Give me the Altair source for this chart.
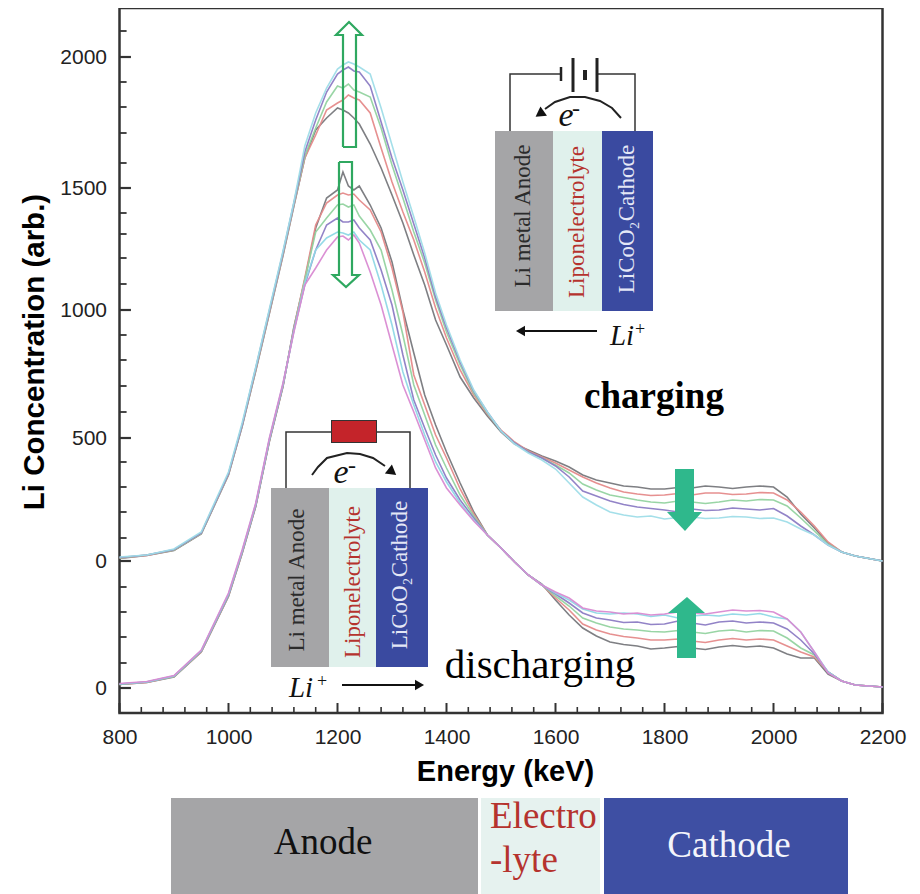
import altair as alt
import pandas as pd

energy = [800,850,900,950,1000,1025,1050,1075,1100,1120,1140,1160,1180,1200,1210,1220,1230,1240,1260,1280,1300,1320,1340,1360,1380,1400,1425,1450,1475,1500,1525,1550,1575,1600,1625,1650,1675,1700,1725,1750,1775,1800,1825,1850,1875,1900,1925,1950,1975,2000,2025,2050,2075,2100,2125,2150,2200]

charge_cyan = [12,20,44,112,352,548,772,1004,1236,1432,1656,1788,1888,1964,1980,1992,1984,1972,1944,1808,1660,1512,1372,1228,1068,940,800,680,592,516,464,428,400,364,308,252,220,192,180,172,176,164,170,172,166,168,174,172,166,168,152,124,100,60,32,16,-4]
charge_purple = [10,20,42,108,346,540,768,998,1230,1428,1632,1760,1872,1944,1960,1972,1956,1952,1896,1752,1608,1480,1344,1208,1052,928,792,676,592,516,468,432,408,376,332,276,256,236,222,212,206,200,192,204,198,200,208,204,200,206,176,136,100,60,32,16,-4]
charge_green = [8,20,40,106,344,538,764,994,1226,1424,1616,1728,1832,1896,1888,1904,1880,1872,1852,1728,1580,1448,1312,1188,1040,912,780,668,588,516,468,432,408,380,348,304,280,260,250,240,232,228,236,232,226,232,240,236,242,240,216,168,116,64,32,16,-4]
charge_red = [8,18,40,106,342,536,760,990,1222,1420,1608,1700,1800,1828,1840,1860,1848,1840,1788,1648,1512,1392,1280,1152,1008,888,760,660,584,520,472,436,412,388,360,332,308,288,272,264,258,260,266,260,268,268,262,264,270,268,240,192,136,72,32,16,-4]
charge_grey = [6,18,38,104,340,534,756,986,1218,1416,1608,1720,1768,1808,1800,1788,1768,1744,1664,1568,1460,1348,1220,1100,960,860,732,648,576,512,464,440,416,396,372,340,320,308,296,292,284,284,290,288,296,292,286,292,296,292,252,184,128,68,32,16,-4]

dis_pink = [18,26,50,152,380,552,740,1000,1220,1424,1612,1680,1752,1804,1808,1792,1812,1780,1664,1532,1372,1212,1104,992,880,800,732,668,612,560,504,452,412,384,360,320,308,304,296,300,292,296,304,300,296,304,312,308,310,304,276,224,144,60,28,12,4]
dis_cyan = [16,24,48,150,376,548,736,996,1216,1428,1620,1752,1800,1824,1820,1812,1824,1792,1752,1612,1452,1264,1132,1012,904,824,740,672,612,560,504,452,412,380,352,316,300,296,300,296,286,292,280,288,292,288,296,292,298,284,276,224,144,64,28,12,4]
dis_purple = [16,24,48,148,372,544,732,992,1212,1432,1612,1752,1852,1880,1864,1864,1872,1840,1792,1672,1532,1332,1152,1040,932,840,752,680,612,560,504,452,412,376,340,300,280,272,262,264,254,256,268,260,252,264,268,260,264,260,236,192,136,64,28,12,4]
dis_green = [14,24,46,146,370,542,730,990,1210,1436,1632,1824,1880,1932,1936,1924,1932,1888,1832,1752,1592,1412,1212,1092,972,880,772,688,612,560,504,452,412,368,328,280,260,244,236,232,226,224,230,224,218,228,232,224,230,228,200,160,132,64,28,12,4]
dis_red = [14,22,46,144,368,540,728,988,1208,1440,1640,1852,1940,1972,1980,1972,1976,1952,1912,1824,1680,1504,1252,1132,1012,920,796,696,612,560,504,452,412,360,312,256,232,216,206,200,192,192,196,188,182,192,198,192,196,192,168,144,124,64,28,12,4]
dis_grey = [14,22,44,144,366,538,726,986,1206,1444,1632,1840,1960,1992,2064,2008,1992,2008,1932,1840,1704,1512,1340,1172,1052,944,820,704,612,560,504,452,416,352,292,240,208,184,174,168,156,160,166,160,154,164,170,164,168,160,136,120,120,56,28,12,4]

discharge_offset = -512

series_names = ["c_grey","c_red","c_green","c_purple","c_cyan","d_pink","d_cyan","d_purple","d_green","d_red","d_grey"]
series_colors = ["#77787c","#e58a8a","#93d3a0","#8c7cc4","#9fdde8","#d98ad2","#8fd8e6","#8c7cc4","#93d3a0","#e58a8a","#77787c"]

y_major_ticks = [2012,1488,1000,488,-4,-512]
y_major_labels = ["2000","1500","1000","500","0","0"]
y_minor_ticks = [2116,1912,1812,1708,1588,1388,1304,1208,1104,900,800,696,592,392,292,192,88,-108,-208,-308,-412]
x_major_ticks = [800,1000,1200,1400,1600,1800,2000,2200]
x_minor_ticks = [840,880,920,960,1040,1080,1120,1160,1240,1280,1320,1360,1440,1480,1520,1560,1640,1680,1720,1760,1840,1880,1920,1960,2040,2080,2120,2160]

W, H = 763, 705
xs = alt.Scale(domain=[800, 2200], nice=False, zero=False)
ys = alt.Scale(domain=[-612, 2208], nice=False, zero=False)
SANS, SERIF = "Liberation Sans", "Liberation Serif"

label_expr = "{" + ",".join(f"'{v}':'{t}'" for v, t in zip(y_major_ticks, y_major_labels)) + "}[datum.value]"
xa = alt.Axis(values=x_major_ticks, title="Energy (keV)", grid=False, ticks=False, domain=False,
              labelFont=SANS, labelFontSize=21, labelColor="#222", labelPadding=13, labelFlush=False,
              titleFont=SANS, titleFontSize=29, titleFontWeight="bold", titleColor="#000",
              titleX=385.5, titleY=58, titleAnchor="middle", titleAlign="center", titleBaseline="middle", format="d")
ya = alt.Axis(values=y_major_ticks, labelExpr=label_expr, title="Li Concentration (arb.)", grid=False, ticks=False,
              domain=False, labelFont=SANS, labelFontSize=21, labelColor="#222", labelPadding=13,
              titleFont=SANS, titleFontSize=29.5, titleFontWeight="bold", titleColor="#000",
              titleX=-70, titleY=343.5, titleAnchor="middle", titleAlign="center", titleAngle=270)
X = alt.X("x:Q", scale=xs, axis=xa)
Y = alt.Y("y:Q", scale=ys, axis=ya)


def ax(px):
    return 800 + (px - 119.5) / 0.545


def ay(py):
    return (560 - py) * 4


rows = []
for name, vals, off in [("c_grey",charge_grey,0),("c_red",charge_red,0),("c_green",charge_green,0),("c_purple",charge_purple,0),("c_cyan",charge_cyan,0),
                        ("d_grey",dis_grey,discharge_offset),("d_red",dis_red,discharge_offset),("d_green",dis_green,discharge_offset),("d_purple",dis_purple,discharge_offset),("d_cyan",dis_cyan,discharge_offset),("d_pink",dis_pink,discharge_offset)]:
    assert len(vals) == len(energy), name
    for e, v in zip(energy, vals):
        rows.append({"x": e, "y": v + off, "s": name})
curves = alt.Chart(pd.DataFrame(rows)).mark_line(strokeWidth=1.6, opacity=0.95).encode(
    x=X, y=Y, color=alt.Color("s:N", scale=alt.Scale(domain=series_names, range=series_colors), legend=None),
    detail="s:N")


def yticks(values, length, width):
    df = pd.DataFrame({"y": values, "x": [800] * len(values), "x2": [800 + length] * len(values)})
    return alt.Chart(df).mark_rule(color="#333", strokeWidth=width).encode(x=X, x2="x2:Q", y=Y)


def xticks(values, length, width):
    df = pd.DataFrame({"x": values, "y": [-612] * len(values), "y2": [-612 + length] * len(values)})
    return alt.Chart(df).mark_rule(color="#333", strokeWidth=width).encode(x=X, y=Y, y2="y2:Q")


def box(x0, x1, y0, y1, color):
    return alt.Chart(pd.DataFrame([{"x": ax(x0), "x2": ax(x1), "y": ay(y0), "y2": ay(y1)}])).mark_rect(color=color).encode(
        x=X, x2="x2:Q", y=Y, y2="y2:Q")


def path(points, color="#333", width=1.5):
    df = pd.DataFrame([{"x": ax(a), "y": ay(b), "o": i} for i, (a, b) in enumerate(points)])
    return alt.Chart(df).mark_line(color=color, strokeWidth=width).encode(x=X, y=Y, order="o:Q")


def head(a, b, angle, size=110, color="#111"):
    return alt.Chart(pd.DataFrame([{"x": ax(a), "y": ay(b)}])).mark_point(
        shape="triangle", filled=True, size=size, angle=angle, color=color, opacity=1).encode(x=X, y=Y)


def label(text, a, b, size, color="#111", font=SERIF, angle=0, weight="normal", style="normal", align="center"):
    return alt.Chart(pd.DataFrame([{"x": ax(a), "y": ay(b), "t": text}])).mark_text(
        font=font, fontSize=size, color=color, angle=angle, fontWeight=weight, fontStyle=style,
        align=align, baseline="middle").encode(x=X, y=Y, text="t:N")


def tri(a0, a1, a2, b_tip, b_base, color):
    df = pd.DataFrame([{"x": ax(a0), "y": ay(b_base), "y2": ay(b_base)},
                       {"x": ax(a1), "y": ay(b_tip), "y2": ay(b_base)},
                       {"x": ax(a2), "y": ay(b_base), "y2": ay(b_base)}])
    return alt.Chart(df).mark_area(color=color, opacity=1).encode(x=X, y=Y, y2="y2:Q")


GRAY, ELEC, CATH, RED, TXT = "#a5a5a7", "#e0f1ec", "#3a4aa0", "#b5332e", "#2b2b2b"
layers = [curves, yticks(y_major_ticks, 21, 2.2), yticks(y_minor_ticks, 13, 1.8),
          xticks(x_major_ticks, 40, 2), xticks(x_minor_ticks, 24, 1.6)]

# charging cell
layers += [box(495, 553, 131, 311, GRAY), box(553, 602, 131, 311, ELEC), box(602, 653, 131, 311, CATH),
           path([(510, 131), (510, 74), (560, 74)]), path([(597, 74), (635, 74), (635, 131)]),
           path([(561, 67), (561, 81)], "#222", 2.5), path([(573, 58), (573, 92)], "#222", 3),
           path([(585, 70), (585, 80)], "#222", 4), path([(597, 58), (597, 92)], "#222", 3),
           path([(621, 118), (612, 108), (600, 101), (585, 97), (570, 97), (555, 102), (545, 109)], "#222", 2),
           head(541, 113, 235, 130),
           label("Li metal Anode", 523, 216, 23, TXT, angle=270),
           label("Liponelectrolyte", 577, 222, 23, RED, angle=270),
           label("LiCoO\u2082Cathode", 627, 219, 23, "#e4e7f6", angle=270),
           label("e", 566, 116, 34, style="italic"),
           label("-", 576, 109, 24, style="italic"),
           path([(597, 331), (525, 331)], "#111", 1.8), head(522, 331, 270),
           label("Li", 622, 336, 29, style="italic"),
           label("+", 640, 330, 18),
           label("charging", 654, 397, 37, "#000", weight="bold")]

# discharging cell
layers += [box(271, 329, 488, 667, GRAY), box(329, 376, 488, 667, ELEC), box(376, 428, 488, 667, CATH),
           path([(286, 488), (286, 432), (331, 432)]), path([(377, 432), (410, 432), (410, 488)]),
           box(331, 377, 420, 443, "#333"), box(332, 376, 421, 442, "#c4242a"),
           path([(312, 475), (318, 467), (327, 458), (347, 453), (360, 454), (373, 458), (385, 466)], "#222", 2),
           head(391, 471, 128, 130),
           label("Li metal Anode", 297, 580, 23, TXT, angle=270),
           label("Liponelectrolyte", 353, 582, 23, RED, angle=270),
           label("LiCoO\u2082Cathode", 400, 575, 23, "#e4e7f6", angle=270),
           label("e", 341, 473, 34, style="italic"),
           label("-", 352, 466, 24, style="italic"),
           path([(342, 685), (416, 685)], "#111", 1.8), head(418, 685, 90),
           label("Li", 301, 688, 29, style="italic"),
           label("+", 322, 682, 18),
           label("discharging", 540, 666, 41, "#000")]

# hollow and solid arrows
GREEN, TEAL = "#2fa860", "#2fb88c"
layers += [path([(343, 147), (343, 35), (336, 35), (349, 22), (362, 35), (356, 35), (356, 147), (343, 147)], GREEN, 2.2),
           path([(339, 162), (339, 275), (333, 275), (346, 287), (359, 275), (352, 275), (352, 162), (339, 162)], GREEN, 2.2),
           box(675, 694, 469, 512, TEAL), tri(667, 685, 702, 531, 512, TEAL),
           box(677, 696, 613, 658, TEAL), tri(668, 687, 705, 597, 613, TEAL)]

# layer strip below the plot
layers += [box(171, 478, 798, 894, GRAY), box(481, 600, 798, 894, "#e6f2ef"), box(604, 848, 798, 894, "#3e4fa3"),
           label("Anode", 323, 843, 37, "#111"),
           label("Electro", 490, 817, 37, RED, align="left"),
           label("-lyte", 490, 861, 37, RED, align="left"),
           label("Cathode", 729, 846, 37, "#f4f5fb")]

chart = alt.layer(*layers).properties(
    width=W, height=H,
    autosize=alt.AutoSizeParams(type="none"),
    padding={"left": 111.5, "top": 0, "right": 28.5, "bottom": 181},
    background="white",
).configure_view(stroke="#333", strokeWidth=2.5)

chart.save("out.html", embed_options={"renderer": "svg", "actions": False})
